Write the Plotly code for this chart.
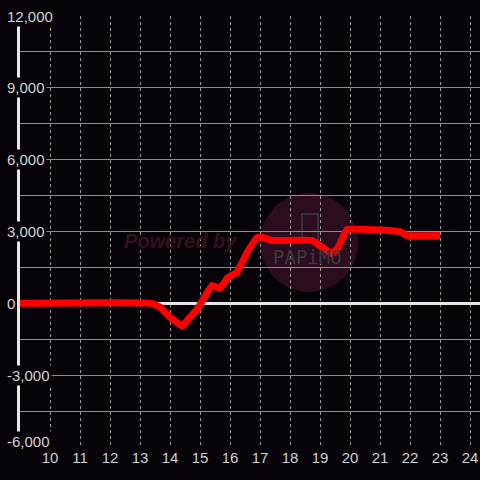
import plotly.graph_objects as go

# hour of day vs cumulative value
hours = [9, 13.4, 13.67, 14.0, 14.4, 14.67, 14.93, 15.4, 15.67, 15.93, 16.23, 16.57,
         16.9, 17.1, 17.4, 18.73, 19.4, 19.6, 19.9, 21.67, 21.9, 23]
values = [0, 0, -160, -580, -950, -580, -210, 750, 625, 1080, 1290, 2125,
          2750, 2750, 2625, 2625, 2080, 2330, 3080, 3000, 2830, 2830]

x_ticks = list(range(10, 25))
y_ticks = [12000, 9000, 6000, 3000, 0, -3000, -6000]
y_labels = ["12,000", "9,000", "6,000", "3,000", "0", "-3,000", "-6,000"]

BG = "#050307"
TXT = "#d2d2d2"
FONT = "Liberation Sans, Arial, sans-serif"

fig = go.Figure()

fig.add_trace(go.Scatter(
    x=hours, y=values, mode="lines",
    line=dict(color="#ff0000", width=7, shape="spline", smoothing=0.25),
    hoverinfo="skip",
))

# watermark
fig.add_shape(type="circle", xref="paper", yref="paper",
              x0=(260 - 20) / 460, x1=(358 - 20) / 460,
              y0=(447 - 292) / 431, y1=(447 - 193) / 431,
              fillcolor="#2c0d1d", line=dict(width=0), layer="below")
fig.add_shape(type="rect", xref="paper", yref="paper",
              x0=(302 - 20) / 460, x1=(318 - 20) / 460,
              y0=(447 - 242) / 431, y1=(447 - 214) / 431,
              fillcolor="rgba(0,0,0,0)", line=dict(color="#3a3a42", width=1.5), layer="below")
fig.add_annotation(text="<b><i>Powered by</i></b>", xref="paper", yref="paper",
                   x=(180 - 20) / 460, y=(447 - 241) / 431, showarrow=False,
                   font=dict(family=FONT, size=20, color="#36101f"))
fig.add_annotation(text="PAPiMO", xref="paper", yref="paper",
                   x=(307 - 20) / 460, y=(447 - 257) / 431, showarrow=False,
                   font=dict(family="DejaVu Sans Mono", size=19, color="#3a3a42"))

# y tick labels drawn over the axis line
for v, lab in zip(y_ticks, y_labels):
    fig.add_annotation(text=lab, xref="paper", yref="y", x=(5 - 20) / 460, y=v,
                       xanchor="left", showarrow=False, bgcolor=BG, borderpad=1,
                       yshift=6 if v == -6000 else 0,
                       font=dict(family=FONT, size=15, color=TXT))

fig.update_layout(
    width=480, height=480,
    margin=dict(l=20, r=0, t=16, b=33),
    paper_bgcolor=BG, plot_bgcolor=BG,
    showlegend=False,
    font=dict(family=FONT, color=TXT),
    xaxis=dict(range=[9, 24 + 1 / 3], tickvals=x_ticks, ticks="",
               showgrid=True, gridcolor="#9a9a9a", gridwidth=1, griddash="3px,3px",
               zeroline=False, showline=False,
               tickfont=dict(family=FONT, size=15, color=TXT)),
    yaxis=dict(range=[-6000, 12000], tickvals=y_ticks, showticklabels=False, ticks="",
               showgrid=True, gridcolor="#8c8c8c", gridwidth=1,
               minor=dict(dtick=1500, tick0=0, showgrid=True, gridcolor="#8c8c8c", gridwidth=1),
               zeroline=True, zerolinecolor="#e6e6e6", zerolinewidth=3,
               showline=True, linecolor="#e6e6e6", linewidth=3),
)

fig.write_html("out.html", config={"displayModeBar": False},
               post_script="document.body.style.margin='0';")
